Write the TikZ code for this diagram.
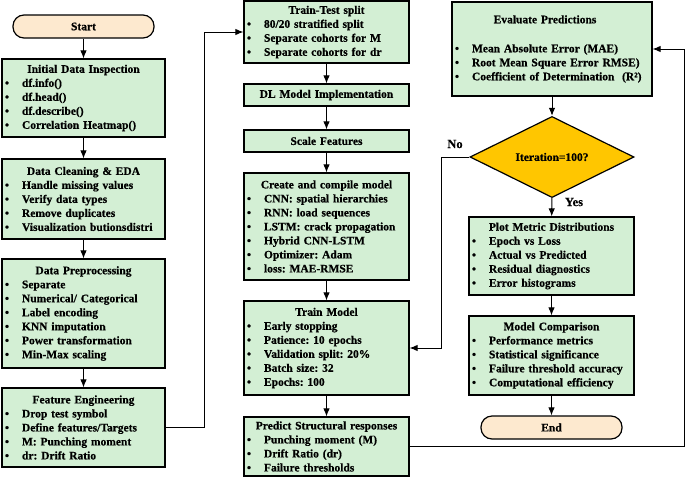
\documentclass[tikz,border=0pt]{standalone}
\usepackage{fontspec}
\setmainfont{Liberation Serif}[BoldFont={Liberation Serif Bold}, BoldFeatures={FakeBold=0.6}]
\usepackage{tikz}
\usetikzlibrary{arrows.meta, shapes.geometric}
\definecolor{boxgreen}{HTML}{D3EFD4}
\definecolor{termpeach}{HTML}{FDE9CF}
\definecolor{decgold}{HTML}{FFC600}
\frenchspacing
\newcommand{\btitle}[1]{{\centering #1\par}}
\newcommand{\bitem}[1]{\par\noindent\makebox[17pt][l]{\textbullet}#1}

\begin{document}
\begin{tikzpicture}[x=1pt, y=-1pt,
  txt/.style={font=\fontsize{11.5}{14}\selectfont\bfseries},
  stepbox/.style={txt, draw, line width=1.2pt, fill=boxgreen, inner xsep=3pt, inner ysep=0pt, align=left},
  termbox/.style={txt, draw, line width=1.2pt, fill=termpeach, rounded corners=11pt, minimum width=141pt, minimum height=23pt},
  arr/.style={line width=1pt, -{Latex[length=8pt,width=6.5pt]}}]
\useasboundingbox (0,0) rectangle (685,485);
% left column
\node[termbox] (start) at (83.5,26.5) {Start};
\node[stepbox, text width=157pt, minimum height=78pt] (init) at (83.5,98)
  {\btitle{Initial Data Inspection}\bitem{df.info()}\bitem{df.head()}\bitem{df.describe()}\bitem{Correlation Heatmap()}};
\node[stepbox, text width=157pt, minimum height=80pt] (clean) at (83.5,199)
  {\btitle{Data Cleaning \& EDA}\bitem{Handle missing values}\bitem{Verify data types}\bitem{Remove duplicates}\bitem{Visualization butionsdistri}};
\node[stepbox, text width=157pt, minimum height=109pt] (prep) at (83.5,313.5)
  {\btitle{Data Preprocessing}\bitem{Separate}\bitem{Numerical/ Categorical}\bitem{Label encoding}\bitem{KNN imputation}\bitem{Power transformation}\bitem{Min-Max scaling}};
\node[stepbox, text width=157pt, minimum height=79pt] (feat) at (83.5,427.5)
  {\btitle{Feature Engineering}\bitem{Drop test symbol}\bitem{Define features/Targets}\bitem{M: Punching moment}\bitem{dr: Drift Ratio}};
% middle column
\node[stepbox, text width=159pt, minimum height=62pt] (split) at (326.5,32)
  {\btitle{Train-Test split}\bitem{80/20 stratified split}\bitem{Separate cohorts for M}\bitem{Separate cohorts for dr}};
\node[stepbox, text width=159pt, minimum height=22pt, align=center] (dl) at (326.5,95) {DL Model Implementation};
\node[stepbox, text width=159pt, minimum height=22pt, align=center] (scale) at (326.5,141) {Scale Features};
\node[stepbox, text width=159pt, minimum height=107pt] (model) at (326.5,226.5)
  {\btitle{Create and compile model}\bitem{CNN: spatial hierarchies}\bitem{RNN: load sequences}\bitem{LSTM: crack propagation}\bitem{Hybrid CNN-LSTM}\bitem{Optimizer: Adam}\bitem{loss: MAE-RMSE}};
\node[stepbox, text width=159pt, minimum height=94pt] (train) at (326.5,348)
  {\btitle{Train Model}\bitem{Early stopping}\bitem{Patience: 10 epochs}\bitem{Validation split: 20\%}\bitem{Batch size: 32}\bitem{Epochs: 100}};
\node[stepbox, text width=159pt, minimum height=59pt] (pred) at (326.5,446.5)
  {\btitle{Predict Structural responses}\bitem{Punching moment (M)}\bitem{Drift Ratio (dr)}\bitem{Failure thresholds}};
% right column
\node[stepbox, text width=194pt, minimum height=94pt] (eval) at (552,49)
  {\btitle{\hspace*{-14pt}Evaluate Predictions}\vskip 15pt\bitem{Mean Absolute Error (MAE)}\bitem{Root Mean Square Error RMSE)}\bitem{Coefficient of Determination~ (R²)}};
\node[txt, diamond, draw, line width=1.2pt, fill=decgold, minimum width=164pt, minimum height=78pt, inner sep=0pt] (dec) at (552,157) {Iteration=100?};
\node[stepbox, text width=159pt, minimum height=78pt] (plot) at (551.5,256)
  {\btitle{Plot Metric Distributions}\bitem{Epoch vs Loss}\bitem{Actual vs Predicted}\bitem{Residual diagnostics}\bitem{Error histograms}};
\node[stepbox, text width=159pt, minimum height=79pt] (cmp) at (551.5,355.5)
  {\btitle{Model Comparison}\bitem{Performance metrics}\bitem{Statistical significance}\bitem{Failure threshold accuracy}\bitem{Computational efficiency}};
\node[termbox] (end) at (551.5,427.5) {End};
\node[font=\fontsize{12.5}{14}\selectfont\bfseries] (nolbl) at (455,144) {No};
\node[font=\fontsize{12.5}{14}\selectfont\bfseries] (yeslbl) at (574,202) {Yes};
% turning points
\coordinate (lturn) at (204,0);
\coordinate (rturn) at (684,0);
\coordinate (nturn) at (441,0);
% connectors
\draw[arr] (start) -- (init); \draw[arr] (init) -- (clean);
\draw[arr] (clean) -- (prep); \draw[arr] (prep) -- (feat);
\draw[arr] (feat.east) -- (feat.east -| lturn) -- (lturn |- split.west) -- (split.west);
\draw[arr] (split) -- (dl); \draw[arr] (dl) -- (scale);
\draw[arr] (scale) -- (model); \draw[arr] (model) -- (train);
\draw[arr] (train) -- (pred);
\draw[arr] (pred.east) -- (pred.east -| rturn) -- (rturn |- eval.east) -- (eval.east);
\draw[arr] (eval) -- (dec); \draw[arr] (dec) -- (plot);
\draw[arr] (dec.west) -- (dec.west -| nturn) -- (nturn |- train.east) -- (train.east);
\draw[arr] (plot) -- (cmp); \draw[arr] (cmp) -- (end);
\end{tikzpicture}
\end{document}
